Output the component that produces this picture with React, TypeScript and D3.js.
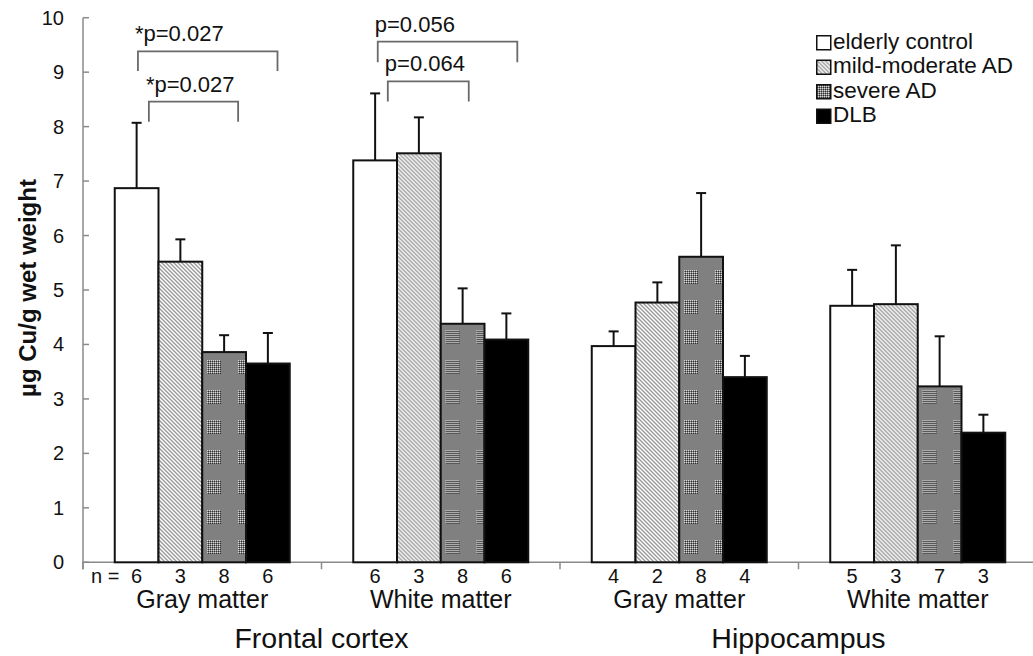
import React from "react";
import * as d3 from "d3";

const groupLabels = ["Gray matter", "White matter", "Gray matter", "White matter"];
const regionLabels = ["Frontal cortex", "Hippocampus"];
const seriesNames = ["elderly control", "mild-moderate AD", "severe AD", "DLB"];

const elderlyControl = [6.87, 7.38, 3.97, 4.71];
const mildModerateAD = [5.52, 7.51, 4.77, 4.74];
const severeAD = [3.86, 4.38, 5.61, 3.23];
const dlb = [3.65, 4.09, 3.4, 2.38];

const elderlyControlErr = [1.2, 1.23, 0.27, 0.66];
const mildModerateADErr = [0.41, 0.66, 0.37, 1.08];
const severeADErr = [0.31, 0.65, 1.17, 0.92];
const dlbErr = [0.56, 0.48, 0.39, 0.33];

const nElderly = [6, 6, 4, 5];
const nMild = [3, 3, 2, 3];
const nSevere = [8, 8, 8, 7];
const nDlb = [6, 6, 4, 3];

const yTicks = [0, 1, 2, 3, 4, 5, 6, 7, 8, 9, 10];

// significance brackets: group, start/end in bar units, top and foot values
const bracketGroup = [0, 0, 1, 1];
const bracketFrom = [0.53, 0.78, 0.56, 0.79];
const bracketTo = [3.72, 2.82, 3.75, 2.64];
const bracketTop = [9.38, 8.46, 9.56, 8.83];
const bracketFoot = [9.02, 8.09, 9.18, 8.46];
const bracketLabels = ["*p=0.027", "*p=0.027", "p=0.056", "p=0.064"];

const values = [elderlyControl, mildModerateAD, severeAD, dlb];
const errs = [elderlyControlErr, mildModerateADErr, severeADErr, dlbErr];
const ns = [nElderly, nMild, nSevere, nDlb];
const fills = ["#ffffff", "url(#hatch)", "url(#dots)", "#000000"];

const W = 1033;
const H = 656;
const FONT = "'Liberation Sans', Arial, sans-serif";

export default function App() {
  const x0 = 83;
  const groupW = 238.5;
  const x = d3.scaleBand<number>().domain([0, 1, 2, 3]).range([x0, x0 + 4 * groupW]);
  const pad = 31.75;
  const xb = d3
    .scaleBand<number>()
    .domain([0, 1, 2, 3])
    .range([pad, x.bandwidth() - pad]);
  const y = d3.scaleLinear().domain([0, 10]).range([562.3, 17.7]);
  const bw = xb.bandwidth();
  const axisColor = "#8a8a8a";

  const barUnit = (g: number, u: number) => (x(g) as number) + pad + u * bw;

  return (
    <svg
      width={W}
      height={H}
      style={{ position: "absolute", left: 0, top: 0, background: "#fff" }}
      fontFamily={FONT}
    >
      <defs>
        <pattern id="hatch" patternUnits="userSpaceOnUse" width="4" height="4">
          <rect width="4" height="4" fill="#ffffff" />
          <path d="M-1,-1 L5,5 M-1,3 L1,5 M3,-1 L5,1" stroke="#9a9a9a" strokeWidth="1.4" />
        </pattern>
        <pattern id="dots" patternUnits="userSpaceOnUse" width="31" height="30">
          <rect width="31" height="30" fill="#808080" />
          {d3.range(0, 14, 2).map((i) =>
            d3.range(0, 14, 2).map((j) => (
              <g key={`${i}-${j}`}>
                <rect x={i} y={j} width="1" height="1" fill="#d8d8d8" />
                <rect x={i + 1} y={j + 1} width="1" height="1" fill="#303030" />
              </g>
            ))
          )}
        </pattern>
      </defs>

      {/* y axis */}
      <line x1={x0} x2={x0} y1={y(10)} y2={y(0) + 7} stroke={axisColor} strokeWidth={1.5} />
      {yTicks.map((t) => (
        <g key={t}>
          <line x1={x0} x2={x0 + 6} y1={y(t)} y2={y(t)} stroke={axisColor} strokeWidth={1.5} />
          <text x={64} y={y(t)} dy="0.35em" textAnchor="end" fontSize={20} fill="#111">
            {t}
          </text>
        </g>
      ))}
      <text
        transform={`translate(36,${288}) rotate(-90)`}
        textAnchor="middle"
        fontSize={24}
        fontWeight="bold"
        fill="#111"
      >
        µg Cu/g wet weight
      </text>

      {/* x axis */}
      <line x1={x0} x2={x0 + 4 * groupW} y1={y(0)} y2={y(0)} stroke={axisColor} strokeWidth={1.5} />
      {d3.range(0, 5).map((i) => (
        <line
          key={i}
          x1={x0 + i * groupW}
          x2={x0 + i * groupW}
          y1={y(0)}
          y2={y(0) + 7}
          stroke={axisColor}
          strokeWidth={1.5}
        />
      ))}

      {/* bars */}
      {groupLabels.map((_, g) => (
        <g key={g} transform={`translate(${x(g)},0)`}>
          {values.map((vals, s) => {
            const bx = (xb(s) as number);
            const cx = bx + bw / 2;
            const top = y(vals[g]);
            const et = y(vals[g] + errs[s][g]);
            return (
              <g key={s}>
                <line x1={cx} x2={cx} y1={top} y2={et} stroke="#111" strokeWidth={2} />
                <line x1={cx - 5} x2={cx + 5} y1={et} y2={et} stroke="#111" strokeWidth={2} />
                <rect
                  x={bx}
                  y={top}
                  width={bw}
                  height={y(0) - top}
                  fill={fills[s]}
                  stroke="#111"
                  strokeWidth={2}
                />
                <text x={cx} y={583} textAnchor="middle" fontSize={20} fill="#111">
                  {ns[s][g]}
                </text>
              </g>
            );
          })}
          <text x={x.bandwidth() / 2} y={608} textAnchor="middle" fontSize={25} fill="#111">
            {groupLabels[g]}
          </text>
        </g>
      ))}
      <text x={x0 + 8} y={583} fontSize={20} fill="#111">
        n =
      </text>
      {regionLabels.map((r, i) => (
        <text
          key={r}
          x={x0 + (2 * i + 1) * groupW}
          y={648}
          textAnchor="middle"
          fontSize={28.5}
          fill="#111"
        >
          {r}
        </text>
      ))}

      {/* brackets */}
      {bracketLabels.map((lab, i) => {
        const g = bracketGroup[i];
        const xa = barUnit(g, bracketFrom[i]);
        const xc = barUnit(g, bracketTo[i]);
        const yt = y(bracketTop[i]);
        const yf = y(bracketFoot[i]);
        return (
          <g key={i}>
            <path
              d={`M${xa},${yf} V${yt} H${xc} V${yf}`}
              fill="none"
              stroke="#6a6a6a"
              strokeWidth={1.8}
            />
            <text x={xa - 3} y={yt - 10} fontSize={22} fill="#111">
              {lab}
            </text>
          </g>
        );
      })}

      {/* legend */}
      {seriesNames.map((nm, i) => (
        <g key={nm} transform={`translate(816,${35 + i * 24.5})`}>
          <rect x={0.75} y={0.75} width={14} height={14} fill={fills[i]} stroke="#111" strokeWidth={1.5} />
          <text x={17} y={13.5} fontSize={22.5} fill="#111">
            {nm}
          </text>
        </g>
      ))}
    </svg>
  );
}
